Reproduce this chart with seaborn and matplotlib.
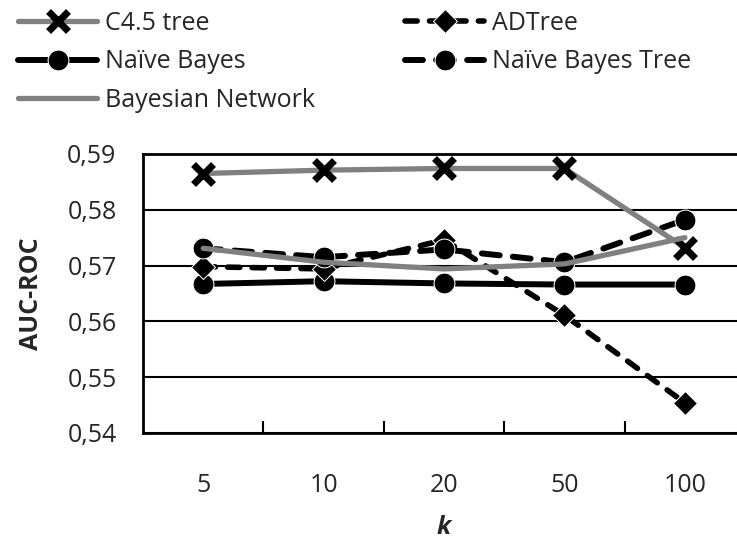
import numpy as np
import matplotlib
matplotlib.use("Agg")
import matplotlib.pyplot as plt
import seaborn as sns

k_labels = ["5", "10", "20", "50", "100"]
c45_tree = [0.5865, 0.5871, 0.5874, 0.5874, 0.5732]
adtree = [0.5698, 0.5694, 0.5746, 0.5611, 0.5454]
naive_bayes = [0.5667, 0.5672, 0.5668, 0.5666, 0.5666]
nb_tree = [0.5731, 0.5715, 0.5729, 0.5706, 0.5782]
bayes_net = [0.5731, 0.5706, 0.5694, 0.5703, 0.5750]

sns.set_style("white")
plt.rcParams["font.family"] = ["Open Sans", "DejaVu Sans"]

fig = plt.figure(figsize=(7.37, 5.46), dpi=100)
ax = fig.add_axes([0.194, 0.207, 0.817, 0.511])

pos = np.arange(len(k_labels))
grey = "#808080"

# C4.5: grey line, black crosses
sns.lineplot(x=pos, y=c45_tree, ax=ax, color=grey, lw=3.8, marker="x",
             markersize=15, markeredgewidth=5, markeredgecolor="black",
             label="C4.5 tree", zorder=5)
sns.lineplot(x=pos, y=naive_bayes, ax=ax, color="black", lw=4.3, marker="o",
             markersize=15, label="Naïve Bayes", zorder=4)
sns.lineplot(x=pos, y=bayes_net, ax=ax, color=grey, lw=3.8,
             label="Bayesian Network", zorder=6)
sns.lineplot(x=pos, y=adtree, ax=ax, color="black", lw=4, ls=(0, (2.2, 2.2)),
             dash_capstyle="round", marker="D", markersize=12,
             label="ADTree", zorder=4)
sns.lineplot(x=pos, y=nb_tree, ax=ax, color="black", lw=4.3, ls=(0, (3.0, 2.2)),
             dash_capstyle="round", marker="o", markersize=15,
             label="Naïve Bayes Tree", zorder=4)

ax.set_xlim(-0.5, 4.5)
ax.set_ylim(0.54, 0.59)
yt = np.arange(0.54, 0.5901, 0.01)
ax.set_yticks(yt)
ax.set_yticklabels([f"{v:.2f}".replace(".", ",") for v in yt])
ax.set_xticks(pos)
ax.set_xticklabels(k_labels)
ax.set_xticks(pos[:-1] + 0.5, minor=True)
ax.tick_params(axis="x", which="major", length=0, pad=29, labelsize=18)
ax.tick_params(axis="x", which="minor", direction="in", length=9, width=1.5,
               color="black", bottom=True)
ax.tick_params(axis="y", length=0, pad=19, labelsize=18)

ax.yaxis.grid(True, color="black", lw=1.5)
ax.xaxis.grid(False)
for side in ["left", "bottom", "top"]:
    ax.spines[side].set_color("black")
    ax.spines[side].set_linewidth(2)
ax.spines["right"].set_visible(False)

ax.set_xlabel("k", fontsize=18, fontweight="bold", fontstyle="italic", labelpad=12)
ax.set_ylabel("AUC-ROC", fontsize=18, fontweight="bold", labelpad=17)

handles, labels = ax.get_legend_handles_labels()
ax.legend_.remove()
fig.legend(handles, labels, loc="upper left", bbox_to_anchor=(18 / 737, 1 - 11 / 546),
           ncol=2, frameon=False, fontsize=18, handlelength=3.16,
           handletextpad=0.32, columnspacing=3.6, labelspacing=0.54,
           borderpad=0, borderaxespad=0)

fig.savefig("out.png", dpi=100)
